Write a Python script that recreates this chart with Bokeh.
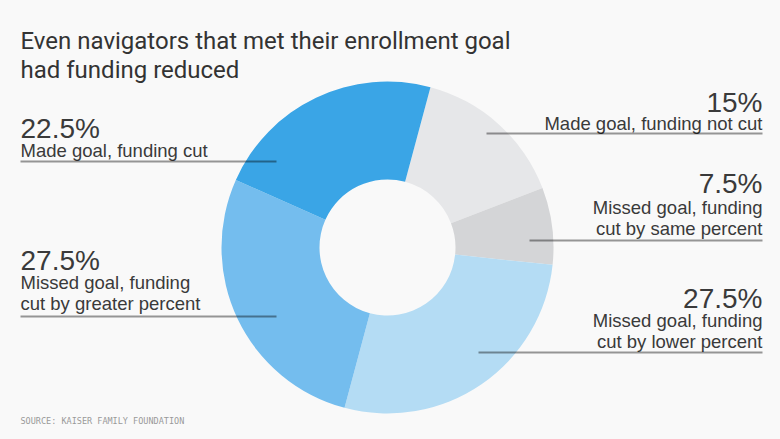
import math
from bokeh.plotting import figure
from bokeh.models import Range1d
from bokeh.core.properties import value
from bokeh.embed import file_html
from bokeh.resources import INLINE

# ---- data ----
categories = ["Made goal, funding not cut",
              "Missed goal, funding cut by same percent",
              "Missed goal, funding cut by lower percent",
              "Missed goal, funding cut by greater percent",
              "Made goal, funding cut"]
shares = [15, 7.5, 27.5, 27.5, 22.5]
pct_labels = ["15%", "7.5%", "27.5%", "27.5%", "22.5%"]
desc_lines = [["Made goal, funding not cut"],
              ["Missed goal, funding", "cut by same percent"],
              ["Missed goal, funding", "cut by lower percent"],
              ["Missed goal, funding", "cut by greater percent"],
              ["Made goal, funding cut"]]
colors = ["#e6e7e9", "#d4d5d7", "#b4dcf4", "#74bdee", "#3aa5e6"]

title_lines = ["Even navigators that met their enrollment goal", "had funding reduced"]
source_text = "SOURCE: KAISER FAMILY FOUNDATION"

W, H = 780, 439
BG = "#f9f9f9"

p = figure(width=W, height=H, output_backend="svg", toolbar_location=None,
           x_range=Range1d(0, W), y_range=Range1d(H, 0),
           min_border=0, background_fill_color=BG, border_fill_color=BG,
           outline_line_color=None)
p.axis.visible = False
p.grid.visible = False

# ---- donut ----
cx, cy, r_out, r_in = 387, 247, 166, 68
start_deg = 15  # clockwise from top
total = sum(shares)
starts, ends = [], []
acc = start_deg
for s in shares:
    a0 = acc
    a1 = acc + s / total * 360
    starts.append(math.radians(90 - a0))
    ends.append(math.radians(90 - a1))
    acc = a1
p.annular_wedge(x=[cx] * len(shares), y=[cy] * len(shares),
                inner_radius=r_in, outer_radius=r_out,
                start_angle=starts, end_angle=ends, direction="clock",
                fill_color=colors, line_color=None)

# ---- labels ----
FONT = value("Liberation Sans")
TXT = "#3a3a3a"
layout = [
    ("right", 102, 123, 133, 486, 762),
    ("right", 183, 207, 240, 529, 762),
    ("right", 298, 320, 352, 478, 762),
    ("left", 260, 282, 316, 20, 276),
    ("left", 128, 150, 161, 20, 276),
]
for i, (side, yp, yd, yl, x0, x1) in enumerate(layout):
    tx = 762 if side == "right" else 20
    align = "right" if side == "right" else "left"
    p.text(x=[tx], y=[yp], text=[pct_labels[i]], text_font=FONT,
           text_font_size="28px", text_color=TXT, text_align=align,
           text_baseline="alphabetic")
    for j, ln in enumerate(desc_lines[i]):
        p.text(x=[tx], y=[yd + j * 21], text=[ln], text_font=FONT,
               text_font_size="18.5px", text_color=TXT, text_align=align,
               text_baseline="alphabetic")
    p.segment(x0=[x0], y0=[yl], x1=[x1], y1=[yl], line_color="black",
              line_alpha=0.4, line_width=2)

# ---- title ----
for k, t in enumerate(title_lines):
    p.text(x=[20], y=[40 + k * 29], text=[t], text_font=value("Roboto"),
           text_font_size="24px", text_color="#333333", text_align="left",
           text_baseline="alphabetic")

# ---- source ----
p.text(x=[20], y=[420], text=[source_text], text_font=value("DejaVu Sans Mono"),
       text_font_size="8.5px", text_color="#999999", text_align="left",
       text_baseline="alphabetic")

html = file_html(p, INLINE)
html = html.replace("<head>", "<head><style>html,body{background:%s;}</style>" % BG, 1)
open("out.html", "w").write(html)
